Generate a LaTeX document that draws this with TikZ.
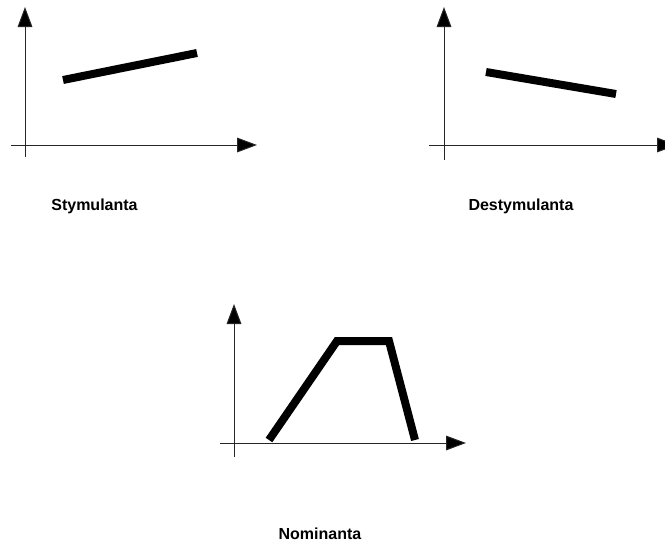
\documentclass[tikz,border=0pt]{standalone}
\usepackage{fontspec}
\setmainfont{Liberation Sans}
\usetikzlibrary{arrows.meta}
\begin{document}
\begin{tikzpicture}[x=0.75pt,y=-0.75pt,
  axis/.style={line width=0.75pt,draw=black!85,-{Triangle[length=15pt,width=11pt,fill=black]}},
  curve/.style={line width=6pt,line cap=butt,line join=miter},
  lbl/.style={font=\bfseries\fontsize{12pt}{14pt}\selectfont,anchor=base,inner sep=0pt}]
\useasboundingbox (0,0) rectangle (665,546);
% panel 1
\coordinate (a1b) at (25,157); \coordinate (a1t) at (25,7);
\coordinate (a1l) at (11,145); \coordinate (a1r) at (257,145);
\coordinate (s1) at (63,80); \coordinate (s2) at (197,53);
\draw[axis] (a1b) -- (a1t);
\draw[axis] (a1l) -- (a1r);
\draw[curve] (s1) -- (s2);
\node[lbl] (l1) at (94.5,210) {Stymulanta};
% panel 2
\coordinate (a2b) at (444,160); \coordinate (a2t) at (444,7);
\coordinate (a2l) at (429,145); \coordinate (a2r) at (677,145);
\coordinate (d1) at (486,72); \coordinate (d2) at (616,94);
\draw[axis] (a2b) -- (a2t);
\draw[axis] (a2l) -- (a2r);
\draw[curve] (d1) -- (d2);
\node[lbl] (l2) at (521,210) {Destymulanta};
% panel 3
\coordinate (a3b) at (234,457); \coordinate (a3t) at (234,304);
\coordinate (a3l) at (220,443); \coordinate (a3r) at (466,443);
\coordinate (n1) at (269,440); \coordinate (n2) at (337,341);
\coordinate (n3) at (389,341); \coordinate (n4) at (415,440);
\draw[axis] (a3b) -- (a3t);
\draw[axis] (a3l) -- (a3r);
\draw[curve] (n1) -- (n2) -- (n3) -- (n4);
\node[lbl] (l3) at (320,539) {Nominanta};
\end{tikzpicture}
\end{document}
